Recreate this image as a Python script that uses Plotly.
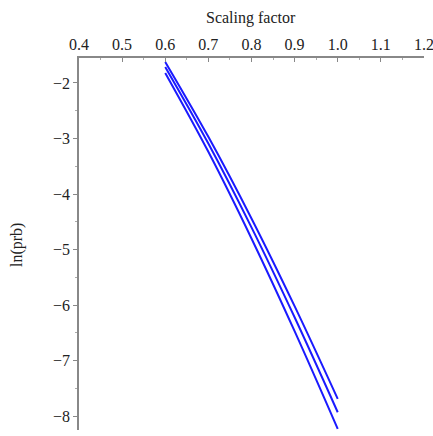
import plotly.graph_objects as go

x_vals = [0.6, 0.7, 0.8, 0.9, 1.0]
series_top = [-1.62, -2.97, -4.44, -6.02, -7.69]
series_mid = [-1.71, -3.09, -4.60, -6.22, -7.93]
series_bot = [-1.82, -3.24, -4.80, -6.47, -8.23]

x_ticks = [0.4, 0.5, 0.6, 0.7, 0.8, 0.9, 1.0, 1.1, 1.2]
x_ticktext = ["0.4", "0.5", "0.6", "0.7", "0.8", "0.9", "1.0", "1.1", "1.2"]
y_ticks = [-2, -3, -4, -5, -6, -7, -8]

FONT = "Liberation Serif"

W, H = 433, 436
L, R, T, B = 79, 9, 58, 6

fig = go.Figure()
for ys in (series_top, series_mid, series_bot):
    fig.add_trace(go.Scatter(x=x_vals, y=ys, mode="lines",
                             line=dict(color="#1a1aff", width=2, shape="spline"),
                             showlegend=False))

pw, ph = W - L - R, H - T - B

def px_to_paper(px, py):
    return (px - L) / pw, (H - B - py) / ph

tx, ty = px_to_paper(251, 18)
yx, yy = px_to_paper(17, 245)

fig.update_layout(
    width=W, height=H,
    margin=dict(l=L, r=R, t=T, b=B),
    paper_bgcolor="white", plot_bgcolor="white",
    font=dict(family=FONT, size=16, color="#222222"),
    xaxis=dict(
        side="top", range=[0.4, 1.2001], automargin=False,
        tickvals=x_ticks, ticktext=x_ticktext, ticklabeloverflow="allow",
        ticks="inside", ticklen=4, tickcolor="#888888",
        showline=True, linecolor="#888888", linewidth=1.5,
        showgrid=False, zeroline=False,
        minor=dict(dtick=0.05, ticks="inside", ticklen=2, tickcolor="#aaaaaa"),
    ),
    yaxis=dict(
        range=[-8.25, -1.55], automargin=False,
        tickvals=y_ticks, ticklabeloverflow="allow",
        ticks="outside", ticklen=4, tickcolor="#888888",
        showline=True, linecolor="#888888", linewidth=1.5,
        showgrid=False, zeroline=False,
        minor=dict(dtick=0.5, ticks="outside", ticklen=2, tickcolor="#aaaaaa"),
    ),
    annotations=[
        dict(text="Scaling factor", x=tx, y=ty, xref="paper", yref="paper",
             xanchor="center", yanchor="middle",
             showarrow=False, font=dict(family=FONT, size=16)),
        dict(text="ln(prb)", x=yx, y=yy, xref="paper", yref="paper",
             xanchor="center", yanchor="middle",
             showarrow=False, textangle=-90, font=dict(family=FONT, size=16)),
    ],
)

fig.write_html(
    "out.html",
    config={"displayModeBar": False},
    post_script="document.body.style.margin='0';document.body.style.overflow='hidden';",
)
